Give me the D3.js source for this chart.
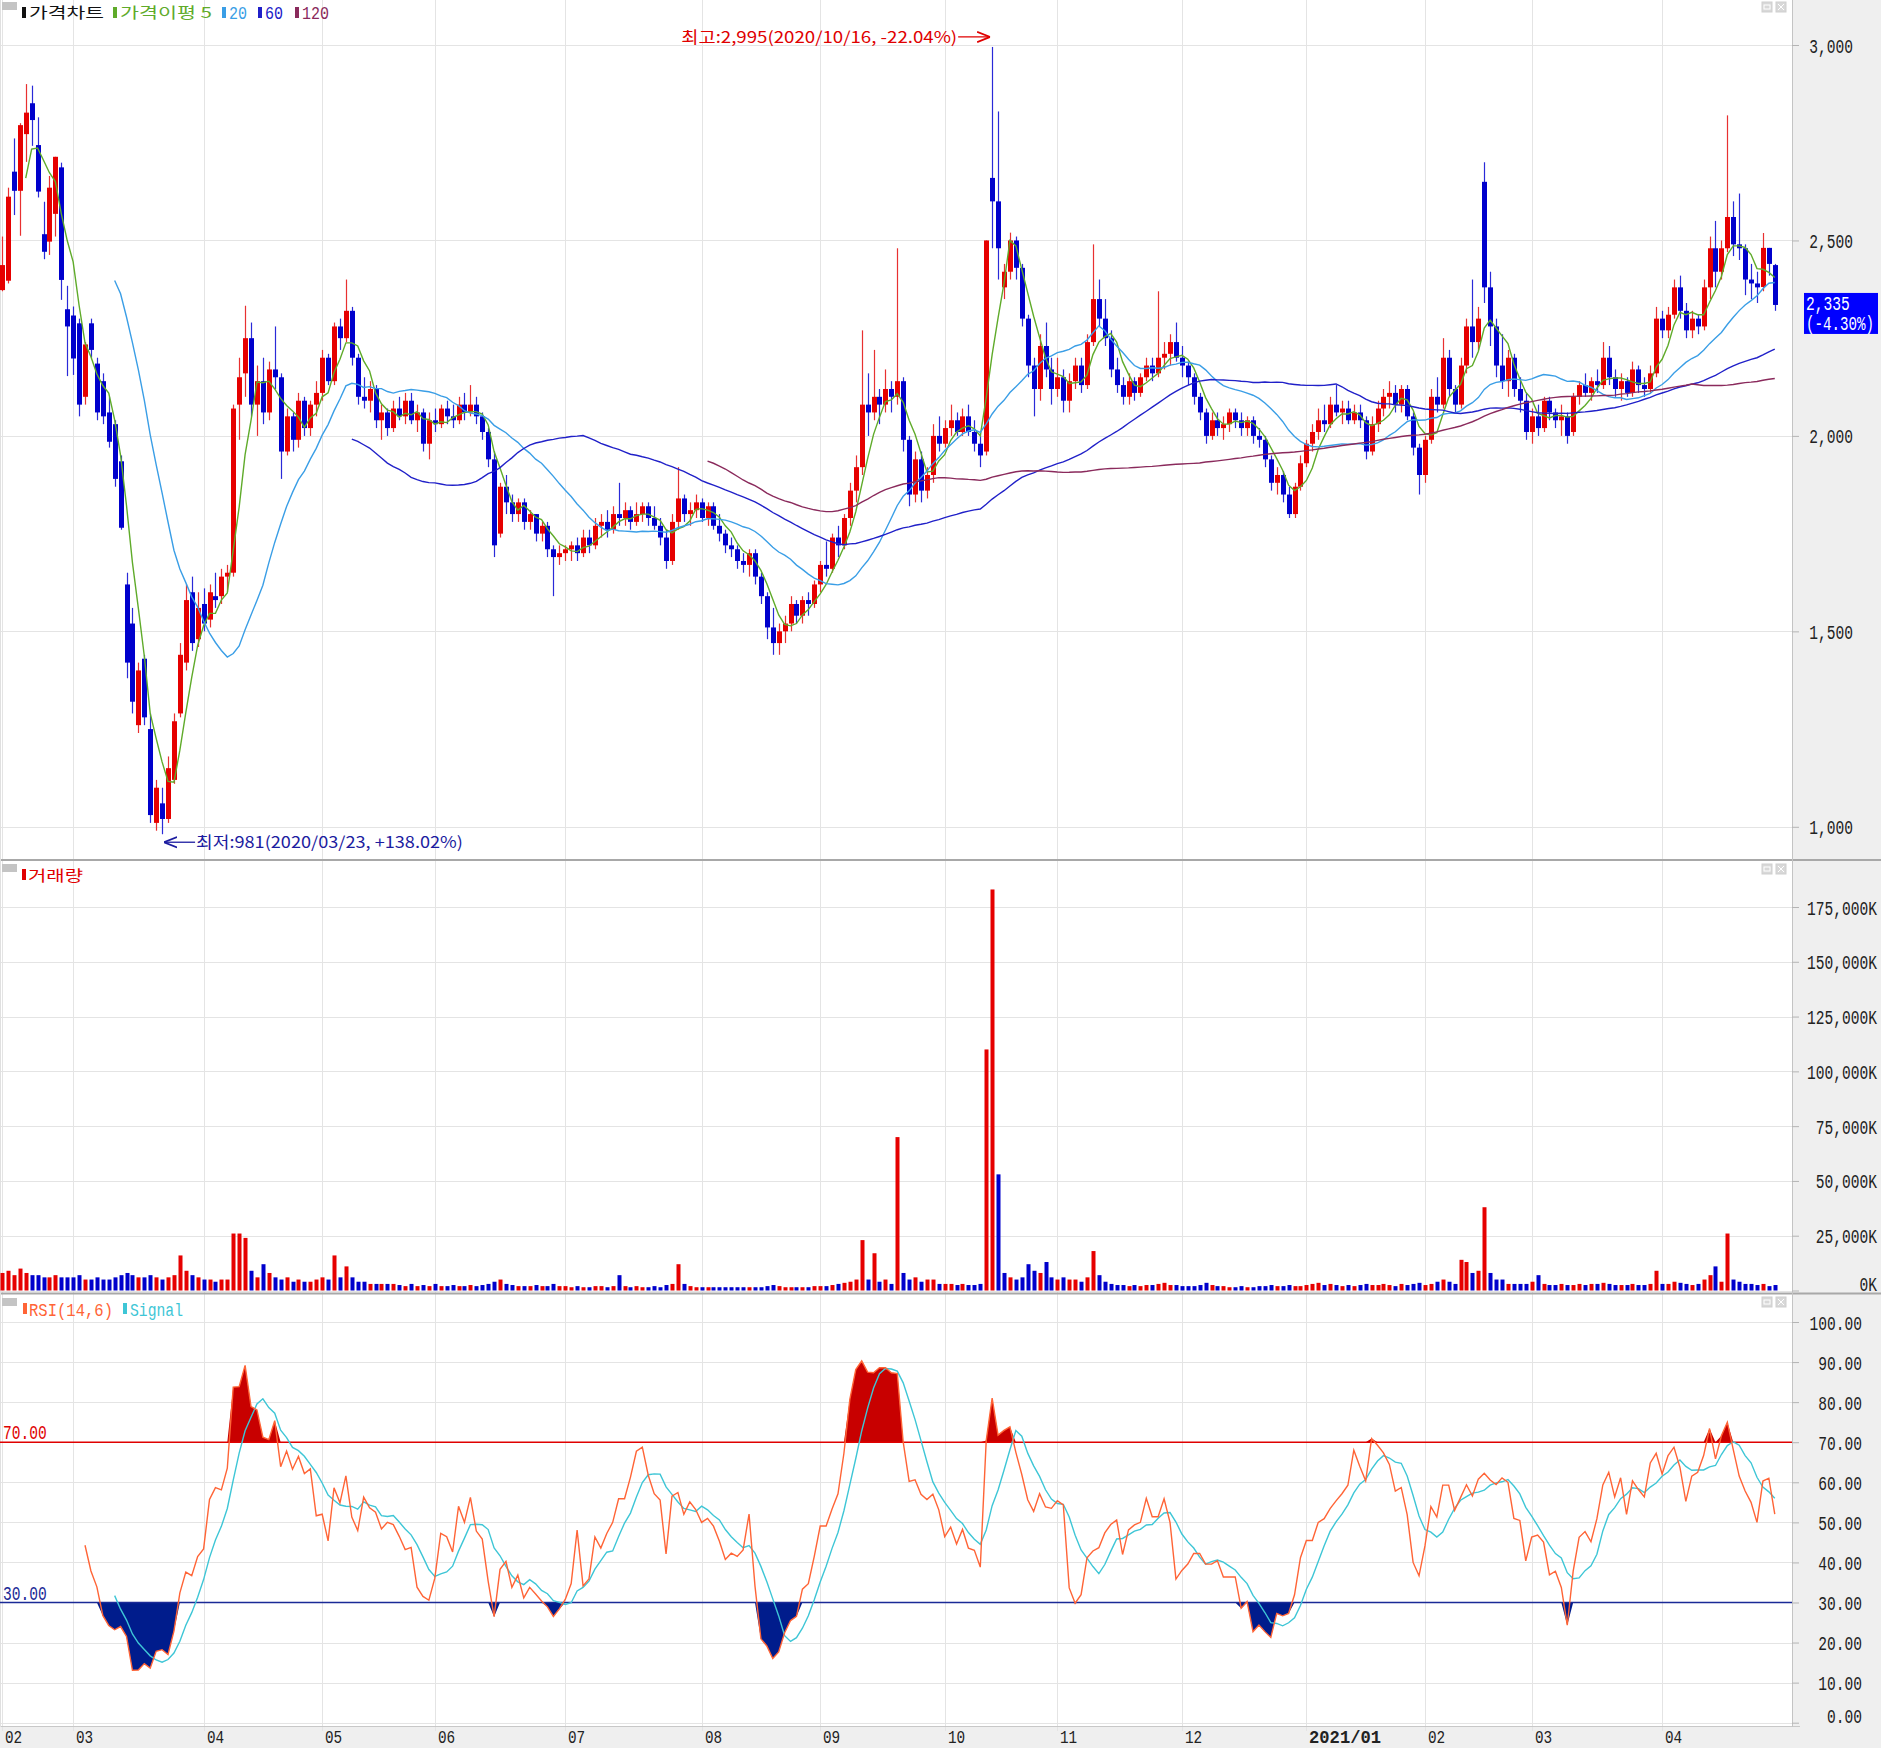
<!DOCTYPE html>
<html><head><meta charset="utf-8">
<script src="https://cdn.jsdelivr.net/npm/d3@7"></script>
<style>body{margin:0;background:#fff}svg{display:block}</style>
</head><body><svg id="c" width="1881" height="1748"></svg>
<script>
// ---------------- DATA ----------------
const monthLabels = ["02","03","04","05","06","07","08","09","10","11","12","2021/01","02","03","04"];
const monthStartIdx = [0,12,34,54,73,95,118,138,159,178,199,220,240,258,280];
const highDate = "2020/10/16", lowDate = "2020/03/23";

const open = [2373,2397,2676,2627,2772,2851,2744,2516,2497,2568,
2687,2324,2308,2288,2100,2288,2185,2140,2060,2030,
1935,1620,1520,1260,1430,1250,1010,1060,1020,1120,
1290,1420,1600,1480,1570,1530,1590,1590,1640,1650,
2080,2160,2250,2080,2140,2060,2170,2150,1960,2050,
1990,2090,2020,2080,2110,2200,2140,2280,2250,2320,
2200,2100,2090,2120,2040,2060,2020,2070,2050,2090,
2040,2060,1980,2040,2030,2070,2050,2040,2080,2060,
2080,2050,2010,1940,1750,1870,1830,1800,1830,1780,
1800,1750,1770,1710,1690,1700,1710,1720,1700,1740,
1720,1770,1780,1760,1800,1790,1810,1780,1800,1820,
1790,1770,1740,1680,1780,1840,1800,1810,1830,1790,
1820,1770,1750,1720,1710,1680,1670,1700,1640,1590,
1510,1470,1500,1520,1570,1540,1580,1570,1620,1670,
1660,1740,1720,1790,1860,1920,2080,2060,2100,2080,
2120,2100,2140,1990,1850,1940,1860,1900,2000,1980,
2020,2040,2010,2050,2010,1980,1960,2660,2600,2380,
2420,2500,2430,2300,2180,2120,2230,2170,2120,2150,
2090,2140,2180,2130,2240,2350,2300,2250,2170,2130,
2100,2140,2110,2150,2180,2160,2200,2210,2240,2200,
2180,2150,2100,2060,2000,2040,2020,2030,2060,2040,
2020,2040,2000,1990,1940,1880,1900,1850,1800,1870,
1930,1980,2010,2040,2030,2080,2060,2070,2040,2060,
2040,1960,2030,2070,2100,2110,2080,2120,2050,1970,
1900,1990,2100,2080,2200,2120,2080,2180,2280,2240,
2650,2380,2280,2180,2140,2200,2120,2090,2010,2050,
2020,2090,2060,2040,2050,2010,2100,2130,2110,2140,
2130,2200,2150,2120,2140,2110,2170,2130,2120,2160,
2300,2270,2310,2380,2320,2270,2300,2280,2380,2480,
2420,2480,2560,2490,2480,2400,2390,2381,2481,2437];

const high = [2510,2635,2761,2800,2900,2896,2815,2599,2665,2714,
2699,2384,2331,2300,2240,2300,2200,2160,2100,2040,
1950,1650,1560,1420,1440,1290,1120,1100,1180,1290,
1470,1620,1640,1600,1610,1620,1650,1660,1670,2080,
2200,2333,2290,2180,2200,2190,2280,2160,2070,2060,
2110,2100,2090,2140,2220,2210,2290,2300,2400,2330,
2210,2150,2140,2130,2080,2070,2090,2100,2110,2110,
2080,2070,2060,2070,2080,2090,2080,2100,2110,2130,
2100,2060,2020,1960,1880,1900,1850,1840,1840,1810,
1800,1780,1780,1720,1720,1720,1730,1740,1760,1760,
1790,1800,1810,1820,1880,1830,1820,1830,1830,1830,
1820,1790,1760,1800,1920,1850,1830,1850,1840,1830,
1830,1800,1760,1740,1720,1700,1710,1710,1650,1600,
1560,1520,1540,1590,1580,1590,1600,1630,1680,1730,
1750,1770,1800,1880,1950,2270,2160,2220,2120,2170,
2140,2480,2150,2000,1960,1960,1920,2030,2050,2040,
2080,2060,2070,2080,2040,2010,2500,2995,2830,2440,
2520,2510,2440,2310,2200,2260,2290,2200,2200,2170,
2160,2200,2200,2260,2490,2400,2350,2270,2200,2150,
2160,2150,2160,2200,2200,2370,2240,2260,2290,2230,
2190,2160,2110,2070,2060,2060,2050,2070,2070,2060,
2050,2050,2020,2000,1950,1920,1910,1870,1880,1950,
1990,2030,2070,2080,2100,2130,2090,2090,2080,2080,
2050,2050,2090,2120,2140,2130,2130,2130,2060,1980,
2000,2120,2150,2250,2220,2130,2200,2300,2400,2330,
2700,2420,2300,2260,2220,2210,2150,2110,2070,2080,
2100,2100,2070,2080,2060,2110,2140,2160,2150,2170,
2240,2230,2170,2160,2150,2190,2180,2150,2180,2330,
2320,2330,2400,2410,2340,2320,2310,2400,2510,2550,
2500,2820,2600,2620,2490,2440,2420,2519,2481,2440];

const low = [2370,2390,2565,2512,2701,2742,2610,2452,2463,2510,
2348,2153,2156,2050,2080,2200,2040,2030,1970,1870,
1760,1380,1290,1240,1260,1010,990,981,1010,1110,
1280,1400,1450,1460,1500,1510,1560,1570,1600,1640,
1990,2100,2050,2000,2030,2040,2120,1890,1950,1960,
1970,2000,2000,2050,2090,2130,2130,2220,2240,2180,
2080,2070,2060,2020,1990,2000,2010,2040,2030,2030,
2010,1960,1940,2010,2020,2030,2020,2030,2040,2050,
2030,1990,1920,1690,1740,1800,1780,1780,1760,1760,
1730,1730,1690,1590,1670,1680,1680,1680,1690,1700,
1710,1740,1740,1750,1770,1770,1760,1770,1780,1770,
1760,1720,1660,1670,1760,1780,1770,1790,1780,1770,
1760,1730,1700,1690,1660,1650,1640,1620,1570,1480,
1440,1440,1470,1500,1520,1520,1540,1560,1600,1640,
1650,1690,1710,1770,1830,1900,2000,2040,2030,2060,
2060,2080,1960,1820,1830,1830,1840,1880,1960,1970,
2000,2000,2000,2000,1960,1920,1950,2480,2400,2350,
2400,2400,2280,2150,2050,2090,2150,2080,2100,2060,
2060,2120,2110,2120,2230,2280,2230,2150,2110,2080,
2080,2090,2100,2140,2140,2150,2170,2180,2190,2150,
2130,2080,2040,1980,1990,2000,1990,2010,2020,2000,
2000,1980,1970,1920,1860,1850,1830,1790,1790,1860,
1920,1960,1990,2010,2020,2050,2030,2030,2030,2020,
1940,1950,2010,2050,2070,2060,2060,2040,1950,1850,
1880,1980,2060,2070,2100,2060,2070,2160,2200,2220,
2340,2230,2150,2120,2100,2100,2060,1990,1980,2000,
2010,2040,2020,2000,1980,2000,2080,2100,2090,2110,
2120,2130,2100,2090,2100,2100,2110,2100,2110,2150,
2250,2250,2300,2300,2250,2250,2260,2270,2350,2380,
2400,2470,2460,2450,2360,2350,2340,2370,2410,2320];

const close = [2437,2612,2627,2795,2827,2808,2625,2471,2635,2714,
2399,2280,2198,2080,2234,2220,2060,2050,1985,1890,
1765,1420,1320,1400,1280,1030,1100,1020,1150,1270,
1440,1580,1470,1560,1520,1600,1580,1640,1650,2070,
2150,2250,2080,2140,2060,2170,2150,1960,2050,1990,
2090,2020,2080,2110,2200,2140,2280,2250,2320,2200,
2100,2090,2120,2040,2060,2020,2070,2050,2090,2040,
2060,1980,2040,2030,2070,2050,2040,2080,2060,2080,
2050,2010,1940,1720,1870,1830,1800,1830,1780,1800,
1750,1770,1710,1690,1700,1710,1720,1700,1740,1720,
1770,1780,1760,1800,1790,1810,1780,1800,1820,1790,
1770,1740,1680,1780,1840,1800,1810,1830,1790,1820,
1770,1750,1720,1710,1680,1670,1700,1640,1590,1510,
1470,1500,1520,1570,1540,1580,1570,1620,1670,1660,
1740,1720,1790,1860,1920,2080,2060,2100,2080,2120,
2100,2140,1990,1850,1940,1860,1900,2000,1980,2020,
2040,2010,2050,2010,1980,1950,2500,2600,2480,2420,
2500,2430,2300,2180,2120,2230,2170,2120,2150,2090,
2140,2180,2130,2240,2350,2300,2250,2170,2130,2100,
2140,2110,2150,2180,2160,2200,2210,2240,2200,2180,
2150,2100,2060,2000,2040,2020,2030,2060,2040,2020,
2040,2000,1990,1940,1880,1900,1850,1800,1870,1930,
1980,2010,2040,2030,2080,2060,2070,2040,2060,2040,
1960,2030,2070,2100,2110,2080,2120,2050,1970,1900,
1990,2100,2080,2200,2120,2080,2180,2280,2240,2300,
2380,2280,2180,2140,2200,2120,2090,2010,2050,2020,
2090,2060,2040,2050,2000,2100,2130,2110,2140,2130,
2200,2150,2120,2140,2110,2170,2130,2120,2160,2300,
2270,2310,2380,2320,2270,2300,2280,2380,2480,2420,
2480,2560,2490,2480,2400,2390,2380,2481,2440,2335];

// volume in thousands of shares (K)
const volume = [8000,9000,7000,10000,8000,7000,7000,6000,6000,7000,6000,6000,
6000,7000,5000,5000,6000,5000,5000,6000,7000,8000,7000,6000,6000,7000,6000,5000,6000,7000,16000,9000,7000,6000,
5000,5000,4000,5000,5000,
26000,26000,24000,9000,6000,12000,8000,
6000,5000,6000,4000,5000,4000,4000,5000,6000,5000,
16000,6000,11000,6000,4000,4000,3000,3000,3000,3000,3000,
2500,2000,3000,2000,2500,2000,3000,2000,2000,2500,2000,2000,2500,2000,2500,3000,4000,5000,3000,2500,2000,2000,2000,2500,2000,2000,3000,2000,2000,1500,2000,1500,1500,2000,2000,1500,2000,
7000,
2000,1500,2000,1500,1500,2000,1500,2500,3000,
12000,
3000,2000,1500,1500,1500,1500,1500,1500,1500,1500,1500,1500,1500,1500,2000,2500,2000,1500,1500,1500,1500,1500,2000,2000,2000,2500,3000,3500,4000,5000,
23000,5000,17000,4000,5000,3000,70000,8000,5000,6000,4000,5000,5000,3000,3000,3000,2500,3000,2500,2500,3000,
110000,183000,53000,8000,6000,5000,6000,12000,9000,8000,13000,6000,5000,6000,5000,5000,4000,6000,18000,7000,4000,
3000,2500,2500,2000,2500,2000,2500,2500,3000,3500,2500,2500,2000,
2000,2000,2500,3500,2500,2000,2000,1500,1500,2000,1500,1500,2000,2000,2500,2000,2000,2500,2000,2000,
2500,3000,3500,2500,3000,2500,2000,2500,2000,2500,3000,2500,2500,3000,2500,2000,3000,2500,3000,3500,2500,3000,4000,5000,4000,3000,
14000,13000,8000,9000,38000,8000,5000,5000,3000,3000,3000,3000,4000,7000,
3000,2500,2500,3000,2500,2500,3000,2500,3000,3000,3500,3000,2500,2500,2500,3000,2500,2500,3000,
9000,3000,3000,4000,3500,3000,2500,3000,5000,7000,11000,4000,26000,5000,4000,3000,3000,2500,3000,2000,2500];

const priceTicks = [1000,1500,2000,2500,3000];
const volumeTicks = [0,25000,50000,75000,100000,125000,150000,175000];
const rsiTicks = [0,10,20,30,40,50,60,70,80,90,100];
const maPeriods = [5,20,60,120];
const rsiPeriod = 14, signalPeriod = 6, rsiHi = 70, rsiLo = 30;

// ---------------- STYLE ----------------
const MONO = "'Liberation Mono','DejaVu Sans Mono',monospace";
const KR = "'Noto Sans CJK KR','Noto Sans',sans-serif";
const CW = 8.75;
const UP = "#e60000", DN = "#0000cc";
const maColors = ["#5fab2a","#3a9ee6","#2020c8","#8a2a5c"];
const W = 1881, H = 1748, PR = 1792;
const N = close.length;

const svg = d3.select("#c");
svg.append("rect").attr("width",W).attr("height",H).attr("fill","#fff");
svg.append("rect").attr("x",PR).attr("y",0).attr("width",W-PR).attr("height",H).attr("fill","#efefef");
svg.append("rect").attr("x",0).attr("y",1727).attr("width",W).attr("height",H-1727).attr("fill","#efefef");

// scales
const x = d3.scaleLinear().domain([0, N-1]).range([2, 2 + (N-1)*5.929]);
const yP = d3.scaleLinear().domain([1000,3000]).range([826.8,45]);
const yV = d3.scaleLinear().domain([0,175000]).range([1290.5,907]);
const yR = d3.scaleLinear().domain([0,100]).range([1722.7,1322]);

// text drawn at natural size then horizontally scaled to the narrow width of the original bitmap font
function txt(p, xx, yy, s, o={}) {
  const size=o.size||21, fam=o.fam||MONO;
  const g = p.append("g").attr("transform",`translate(${xx},${yy})`);
  const t = g.append("text").attr("x",0).attr("y",0).attr("dy","0.36em")
    .attr("font-family",fam).attr("font-size",size).attr("fill",o.fill||"#222")
    .attr("text-anchor",o.anchor||"start").attr("font-weight",o.weight||"normal").text(s);
  const L = o.len!=null ? o.len : s.length*(o.cw||CW);
  const nat = t.node().getComputedTextLength();
  if (nat>0) g.attr("transform",`translate(${xx},${yy}) scale(${(L/nat).toFixed(4)},1)`);
  return g;
}

// vertical grid
const grid = svg.append("g");
grid.selectAll("line.v").data(monthStartIdx).join("line")
  .attr("x1",d=>Math.round(x(d))+0.5).attr("x2",d=>Math.round(x(d))+0.5)
  .attr("y1",0).attr("y2",1731).attr("stroke","#e4e4e4");
function hgrid(ticks, sc){
  grid.selectAll(null).data(ticks).join("line")
    .attr("x1",0).attr("x2",PR).attr("y1",d=>Math.round(sc(d))+0.5).attr("y2",d=>Math.round(sc(d))+0.5)
    .attr("stroke","#e4e4e4");
}
hgrid(priceTicks,yP); hgrid(volumeTicks,yV); hgrid(rsiTicks,yR);

// panel borders
svg.append("line").attr("x1",0).attr("x2",W).attr("y1",860).attr("y2",860).attr("stroke","#a8a8a8").attr("stroke-width",2);
svg.append("line").attr("x1",0).attr("x2",W).attr("y1",1293.5).attr("y2",1293.5).attr("stroke","#a8a8a8").attr("stroke-width",2);
svg.append("line").attr("x1",0).attr("x2",1800).attr("y1",1726.5).attr("y2",1726.5).attr("stroke","#c8c8c8");
svg.append("line").attr("x1",PR+0.5).attr("x2",PR+0.5).attr("y1",0).attr("y2",1727).attr("stroke","#c4c4c4");
svg.append("line").attr("x1",0.5).attr("x2",0.5).attr("y1",0).attr("y2",1727).attr("stroke","#e0e0e0");

// axes: tick marks from d3.axisRight, labels drawn with the narrow text helper
function rAxis(sc, ticks, fmt, endX, maxY){
  const g = svg.append("g").attr("transform",`translate(${PR},0)`)
    .call(d3.axisRight(sc).tickValues(ticks).tickSize(7).tickFormat(""));
  g.select(".domain").remove();
  g.selectAll(".tick line").attr("stroke","#b4b4b4");
  ticks.forEach(v=>{
    txt(svg, PR+endX, Math.min(sc(v), maxY), fmt(v), {anchor:"end"});
  });
}
rAxis(yP, priceTicks, d3.format(","), 61, 9999);
rAxis(yV, volumeTicks, d=>d3.format(",")(d)+"K", 85, 1283);
rAxis(yR, rsiTicks, d3.format(".2f"), 70, 1715);

// x labels
monthLabels.forEach((m,k)=>{
  const bold = m.length>2;
  txt(svg, Math.round(x(monthStartIdx[k]))+3, 1736.5, m, {size:18, weight: bold?"bold":"normal", cw: bold?10.3:8.6});
});

// ---------- price panel ----------
const pg = svg.append("g");
const idx = d3.range(N);
const col = i => close[i] >= open[i] ? UP : DN;
pg.selectAll("line.wick").data(idx).join("line")
  .attr("x1",i=>Math.round(x(i))+0.5).attr("x2",i=>Math.round(x(i))+0.5)
  .attr("y1",i=>yP(high[i])).attr("y2",i=>yP(low[i]))
  .attr("stroke",i=>close[i]>=open[i]?"#e83030":"#2a2ad8").attr("stroke-width",1.2);
pg.selectAll("rect.body").data(idx).join("rect")
  .attr("x",i=>Math.round(x(i))-2).attr("width",5)
  .attr("y",i=>yP(Math.max(open[i],close[i])))
  .attr("height",i=>Math.max(1.5, Math.abs(yP(open[i])-yP(close[i]))))
  .attr("fill",col);

function sma(arr,n){ return arr.map((_,i)=> i<n-1 ? null : d3.mean(arr.slice(i-n+1,i+1))); }
maPeriods.forEach((p,k)=>{
  const m = sma(close,p);
  pg.append("path").datum(m)
    .attr("d", d3.line().defined(d=>d!=null).x((d,i)=>x(i)).y(d=>yP(d)))
    .attr("fill","none").attr("stroke",maColors[k]).attr("stroke-width",1.4);
});

// legend
svg.append("rect").attr("x",2).attr("y",2).attr("width",15).attr("height",8).attr("fill","#c4c4c4");
function legItem(xx, yy, color, label, fam, len, size){
  svg.append("rect").attr("x",xx).attr("y",yy-6).attr("width",4).attr("height",11).attr("fill",color);
  txt(svg, xx+7, yy, label, {fam:fam, size:size||15, fill:color, len:len});
}
legItem(22,13,"#111","가격차트",KR,75);
legItem(113,13,"#5fab2a","가격이평 5",KR,92);
legItem(222,13,"#3a9ee6","20",MONO,18,18);
legItem(258,13,"#2020c8","60",MONO,18,18);
legItem(295,13,"#8a2a5c","120",MONO,27,18);

// window buttons
[2, 864, 1297].forEach(t=>{
  [1762,1776].forEach(bx=>{
    svg.append("rect").attr("x",bx).attr("y",t).attr("width",10).attr("height",10).attr("fill","#d8d8d8").attr("stroke","#cfcfcf");
  });
  svg.append("rect").attr("x",1764).attr("y",t+3).attr("width",6).attr("height",4).attr("fill","none").attr("stroke","#fff");
  svg.append("path").attr("d",`M1778,${t+2}L1784,${t+8}M1784,${t+2}L1778,${t+8}`).attr("stroke","#fff");
});

// high/low annotations
const iHi = d3.maxIndex(high), iLo = d3.minIndex(low);
const last = close[N-1], prev = close[N-2];
const pct = v => (v>=0?"+":"") + v.toFixed(2) + "%";
const hiX = x(iHi), hiY = yP(high[iHi]) - 10;
svg.append("defs").html('<marker id="ah" viewBox="0 0 10 10" refX="10" refY="5" markerWidth="10" markerHeight="10" orient="auto"><path d="M0,1L10,5L0,9" fill="none" stroke="#e00000" stroke-width="1.4"/></marker><marker id="al" viewBox="0 0 10 10" refX="0" refY="5" markerWidth="10" markerHeight="10" orient="auto"><path d="M10,1L0,5L10,9" fill="none" stroke="#1c1ca0" stroke-width="1.4"/></marker>');
svg.append("line").attr("x1",hiX-34).attr("x2",hiX-2).attr("y1",hiY).attr("y2",hiY).attr("stroke","#e00000").attr("stroke-width",1.3).attr("marker-end","url(#ah)");
txt(svg, hiX-35, hiY, `최고:${d3.format(",")(high[iHi])}(${highDate}, ${pct((last/high[iHi]-1)*100)})`, {fam:KR, size:16, fill:"#e00000", anchor:"end", len:276});
const loX = x(iLo), loY = yP(low[iLo]) + 8;
svg.append("line").attr("x1",loX+2).attr("x2",loX+33).attr("y1",loY).attr("y2",loY).attr("stroke","#1c1ca0").attr("stroke-width",1.3).attr("marker-start","url(#al)");
txt(svg, loX+34, loY, `최저:${d3.format(",")(low[iLo])}(${lowDate}, ${pct((last/low[iLo]-1)*100)})`, {fam:KR, size:16, fill:"#1c1ca0", len:267});

// current price box
const cy = yP(last);
svg.append("rect").attr("x",1804).attr("y",cy-12).attr("width",74).attr("height",41).attr("fill","#0000ff");
txt(svg, 1806, cy-2, d3.format(",")(last), {size:20, fill:"#fff"});
txt(svg, 1806, cy+18, "("+((last/prev-1)*100).toFixed(2)+"%)", {size:20, fill:"#fff", len:68});

// ---------- volume panel (coloured by change vs previous close) ----------
const vcol = i => (i===0 ? close[i]>=open[i] : close[i]>=close[i-1]) ? UP : DN;
svg.append("rect").attr("x",2).attr("y",864).attr("width",15).attr("height",8).attr("fill","#c4c4c4");
svg.append("rect").attr("x",22).attr("y",869).attr("width",4).attr("height",11).attr("fill","#e00000");
txt(svg, 28, 876, "거래량", {fam:KR, size:15, fill:"#e00000", len:55});
svg.append("g").selectAll("rect").data(idx).join("rect")
  .attr("x",i=>Math.round(x(i))-1.5).attr("width",4)
  .attr("y",i=>yV(volume[i])).attr("height",i=>yV(0)-yV(volume[i]))
  .attr("fill",vcol);

// ---------- RSI panel ----------
const rsi = close.map((_,i)=>{
  if (i < rsiPeriod) return null;
  let g=0,l=0;
  for (let k=i-rsiPeriod+1;k<=i;k++){ const d=close[k]-close[k-1]; if(d>0) g+=d; else l-=d; }
  return g+l===0 ? 50 : 100*g/(g+l);
});
const sig = rsi.map((_,i)=>{
  if (i < rsiPeriod+signalPeriod-1) return null;
  return d3.mean(rsi.slice(i-signalPeriod+1,i+1));
});
const rg = svg.append("g");
rg.append("path").datum(rsi).attr("fill","#c80000")
  .attr("d", d3.area().defined(d=>d!=null).x((d,i)=>x(i)).y0(yR(rsiHi)).y1(d=>yR(Math.max(d,rsiHi))));
rg.append("path").datum(rsi).attr("fill","#001c8c")
  .attr("d", d3.area().defined(d=>d!=null).x((d,i)=>x(i)).y0(yR(rsiLo)).y1(d=>yR(Math.min(d,rsiLo))));
rg.append("line").attr("x1",0).attr("x2",PR).attr("y1",yR(rsiHi)).attr("y2",yR(rsiHi)).attr("stroke","#e00000").attr("stroke-width",1.6);
rg.append("line").attr("x1",0).attr("x2",PR).attr("y1",yR(rsiLo)).attr("y2",yR(rsiLo)).attr("stroke","#1a2a96").attr("stroke-width",1.6);
rg.append("path").datum(sig).attr("fill","none").attr("stroke","#3ec6d6").attr("stroke-width",1.4)
  .attr("d", d3.line().defined(d=>d!=null).x((d,i)=>x(i)).y(d=>yR(d)));
rg.append("path").datum(rsi).attr("fill","none").attr("stroke","#ff6436").attr("stroke-width",1.4)
  .attr("d", d3.line().defined(d=>d!=null).x((d,i)=>x(i)).y(d=>yR(d)));
txt(svg, 3, yR(rsiHi)-10, d3.format(".2f")(rsiHi), {size:20, fill:"#e00000"});
txt(svg, 3, yR(rsiLo)-10, d3.format(".2f")(rsiLo), {size:20, fill:"#1a2a96"});
svg.append("rect").attr("x",2).attr("y",1298).attr("width",15).attr("height",8).attr("fill","#c4c4c4");
svg.append("rect").attr("x",23).attr("y",1303).attr("width",4).attr("height",11).attr("fill","#ff6436");
txt(svg, 29, 1309, "RSI(14,6)", {size:19, fill:"#ff6436", len:84});
svg.append("rect").attr("x",123).attr("y",1303).attr("width",4).attr("height",11).attr("fill","#3ec6d6");
txt(svg, 130, 1309, "Signal", {size:19, fill:"#3ec6d6", len:53});
</script></body></html>
